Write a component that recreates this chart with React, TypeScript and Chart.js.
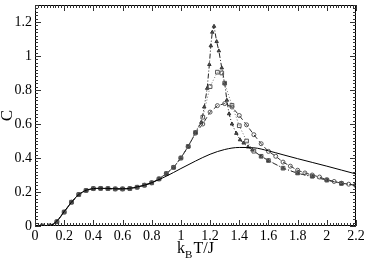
import React, { useEffect, useRef } from "react";
import { Chart, registerables } from "chart.js";

Chart.register(...registerables);

// Axis ticks
const xTickValues = [0, 0.2, 0.4, 0.6, 0.8, 1, 1.2, 1.4, 1.6, 1.8, 2, 2.2];
const xTickLabels = ["0", "0.2", "0.4", "0.6", "0.8", "1", "1.2", "1.4", "1.6", "1.8", "2", "2.2"];
const yTickValues = [0, 0.2, 0.4, 0.6, 0.8, 1, 1.2];
const yTickLabels = ["0", "0.2", "0.4", "0.6", "0.8", "1", "1.2"];

// Solid curve
const solidT = [0, 0.05, 0.1, 0.15, 0.2, 0.25, 0.3, 0.35, 0.4, 0.45, 0.5, 0.55, 0.6, 0.65, 0.7, 0.75, 0.8, 0.85, 0.9, 0.95, 1.0, 1.1, 1.2, 1.3, 1.4, 1.5, 1.6, 1.7, 1.8, 1.9, 2.0, 2.1, 2.2];
const solidC = [0, 0, 0.002, 0.03, 0.085, 0.14, 0.185, 0.21, 0.22, 0.222, 0.221, 0.219, 0.219, 0.222, 0.23, 0.24, 0.255, 0.273, 0.293, 0.315, 0.338, 0.382, 0.422, 0.45, 0.462, 0.46, 0.442, 0.419, 0.396, 0.374, 0.352, 0.329, 0.306];

// Common low-temperature points
const lowT = [0.05, 0.1, 0.15, 0.2, 0.25, 0.3, 0.35, 0.4, 0.45, 0.5, 0.55, 0.6, 0.65, 0.7, 0.75, 0.8, 0.85, 0.9, 0.95, 1.0, 1.05];
const lowC = [0, 0, 0.025, 0.082, 0.14, 0.185, 0.209, 0.22, 0.221, 0.22, 0.218, 0.218, 0.22, 0.228, 0.24, 0.254, 0.277, 0.308, 0.345, 0.4, 0.468];

// Circles (dashed)
const circleT = [1.1, 1.15, 1.2, 1.25, 1.3, 1.35, 1.4, 1.45, 1.5, 1.55, 1.6, 1.65, 1.7, 1.75, 1.8, 1.85, 1.9, 1.95, 2.0, 2.05, 2.1, 2.15, 2.2];
const circleC = [0.546, 0.6, 0.67, 0.708, 0.72, 0.7, 0.65, 0.595, 0.537, 0.484, 0.439, 0.41, 0.376, 0.352, 0.328, 0.312, 0.3, 0.288, 0.272, 0.262, 0.252, 0.246, 0.24];

// Squares (dotted)
const squareT = [1.1, 1.15, 1.2, 1.25, 1.28, 1.3, 1.35, 1.4, 1.45, 1.5, 1.55, 1.6, 1.7, 1.8, 1.9, 2.0, 2.1, 2.2];
const squareC = [0.55, 0.64, 0.82, 0.905, 0.9, 0.84, 0.71, 0.59, 0.5, 0.44, 0.41, 0.385, 0.34, 0.312, 0.293, 0.27, 0.25, 0.24];

// Triangles (dash-dot)
const triangleT = [1.1, 1.14, 1.16, 1.18, 1.195, 1.205, 1.215, 1.227, 1.245, 1.26, 1.28, 1.3, 1.315, 1.33, 1.35, 1.38, 1.405, 1.43, 1.46, 1.49, 1.55, 1.6, 1.7, 1.8, 1.9, 2.0, 2.1, 2.2];
const triangleC = [0.55, 0.61, 0.7, 0.81, 0.95, 1.06, 1.14, 1.175, 1.085, 1.03, 0.93, 0.84, 0.74, 0.66, 0.6, 0.545, 0.507, 0.488, 0.465, 0.447, 0.41, 0.385, 0.34, 0.31, 0.29, 0.27, 0.25, 0.24];

const toPts = (t: number[], c: number[]) => t.map((v, i) => ({ x: v, y: c[i] }));

const framePlugin = {
  id: "frameTicks",
  afterDraw(chart: any) {
    const { ctx, chartArea, scales } = chart;
    const { left, right, top, bottom } = chartArea;
    const xs = scales.x;
    const ys = scales.y;
    ctx.save();
    ctx.strokeStyle = "#000";
    ctx.lineWidth = 1;
    ctx.beginPath();
    ctx.rect(Math.round(left) + 0.5, Math.round(top) + 0.5, Math.round(right - left) - 1, Math.round(bottom - top) - 1);
    ctx.stroke();
    ctx.strokeStyle = "#333";
    ctx.beginPath();
    for (let i = 0; i <= 110; i++) {
      const px = Math.round(xs.getPixelForValue(i * 0.02)) + 0.5;
      const len = i % 10 === 0 ? 6 : 3;
      ctx.moveTo(px, bottom);
      ctx.lineTo(px, bottom - len);
      ctx.moveTo(px, top);
      ctx.lineTo(px, top + len);
    }
    for (let i = 0; i <= 65; i++) {
      const py = Math.round(ys.getPixelForValue(i * 0.02)) + 0.5;
      const len = i % 10 === 0 ? 6 : 3;
      ctx.moveTo(left, py);
      ctx.lineTo(left + len, py);
      ctx.moveTo(right, py);
      ctx.lineTo(right - len, py);
    }
    ctx.stroke();

    // X title with subscript
    ctx.fillStyle = "#000";
    ctx.textBaseline = "alphabetic";
    ctx.textAlign = "left";
    const big = '16px "Liberation Serif"';
    const small = '11px "Liberation Serif"';
    ctx.font = big;
    const wk = ctx.measureText("k").width;
    const wt = ctx.measureText("T/J").width;
    ctx.font = small;
    const wb = ctx.measureText("B").width;
    const total = wk + wb + 1 + wt;
    let sx = (left + right) / 2 - total / 2;
    const baseY = 253;
    ctx.font = big;
    ctx.fillText("k", sx, baseY);
    sx += wk;
    ctx.font = small;
    ctx.fillText("B", sx, baseY + 5);
    sx += wb + 1;
    ctx.font = big;
    ctx.fillText("T/J", sx, baseY);

    // Y title
    ctx.translate(8, (top + bottom) / 2);
    ctx.rotate(-Math.PI / 2);
    ctx.textAlign = "center";
    ctx.textBaseline = "middle";
    ctx.font = '17px "Liberation Serif"';
    ctx.fillText("C", 0, 0);
    ctx.restore();
  },
};

export default function App() {
  const ref = useRef<HTMLCanvasElement | null>(null);
  useEffect(() => {
    document.body.style.margin = "0";
    const canvas = ref.current;
    if (!canvas) return;
    const chart = new Chart(canvas, {
      type: "scatter",
      data: {
        datasets: [
          {
            label: "solid",
            data: toPts(solidT, solidC),
            showLine: true,
            borderColor: "#000",
            borderWidth: 1,
            pointRadius: 0,
            cubicInterpolationMode: "monotone",
          } as any,
          {
            label: "squares",
            data: toPts(lowT.concat(squareT), lowC.concat(squareC)),
            showLine: true,
            borderColor: "#777",
            borderWidth: 1,
            borderDash: [1, 2],
            pointStyle: "rect",
            pointRadius: 2.6,
            pointBorderColor: "#555",
            pointBackgroundColor: "rgba(255,255,255,0)",
            pointBorderWidth: 1,
          },
          {
            label: "triangles",
            data: toPts(lowT.concat(triangleT), lowC.concat(triangleC)),
            showLine: true,
            borderColor: "#222",
            borderWidth: 1,
            borderDash: [5, 2, 1, 2],
            pointStyle: "triangle",
            pointRadius: 2,
            pointBorderColor: "#333",
            pointBackgroundColor: "#555",
            pointBorderWidth: 1,
          },
          {
            label: "circles",
            data: toPts(lowT.concat(circleT), lowC.concat(circleC)),
            showLine: true,
            borderColor: "#333",
            borderWidth: 1,
            borderDash: [5, 3],
            pointStyle: "circle",
            pointRadius: 2,
            pointBorderColor: "#555",
            pointBackgroundColor: "rgba(255,255,255,0)",
            pointBorderWidth: 1,
          },
        ],
      },
      options: {
        animation: false,
        responsive: false,
        devicePixelRatio: 1,
        layout: { padding: { left: 0, right: 10, top: 3, bottom: 0 } },
        plugins: { legend: { display: false }, tooltip: { enabled: false } },
        scales: {
          x: {
            type: "linear",
            min: 0,
            max: 2.2,
            grid: { display: false, drawTicks: false },
            border: { display: false },
            afterBuildTicks: (s: any) => {
              s.ticks = xTickValues.map((v) => ({ value: v }));
            },
            afterFit: (s: any) => {
              s.height = 34;
              s.paddingLeft = 0;
              s.paddingRight = 0;
            },
            ticks: {
              autoSkip: false,
              maxRotation: 0,
              padding: 2,
              color: "#000",
              font: { family: "Liberation Serif", size: 14 },
              callback: (_v: any, i: number) => xTickLabels[i],
            },
          },
          y: {
            type: "linear",
            min: 0,
            max: 1.3,
            grid: { display: false, drawTicks: false },
            border: { display: false },
            afterBuildTicks: (s: any) => {
              s.ticks = yTickValues.map((v) => ({ value: v }));
            },
            afterFit: (s: any) => {
              s.width = 35;
              s.paddingTop = 0;
              s.paddingBottom = 0;
            },
            ticks: {
              autoSkip: false,
              padding: 3,
              color: "#000",
              font: { family: "Liberation Serif", size: 14 },
              callback: (_v: any, i: number) => yTickLabels[i],
            },
          },
        },
      },
      plugins: [framePlugin],
    });
    return () => chart.destroy();
  }, []);
  return <canvas ref={ref} width={366} height={260} style={{ display: "block", width: 366, height: 260 }} />;
}
